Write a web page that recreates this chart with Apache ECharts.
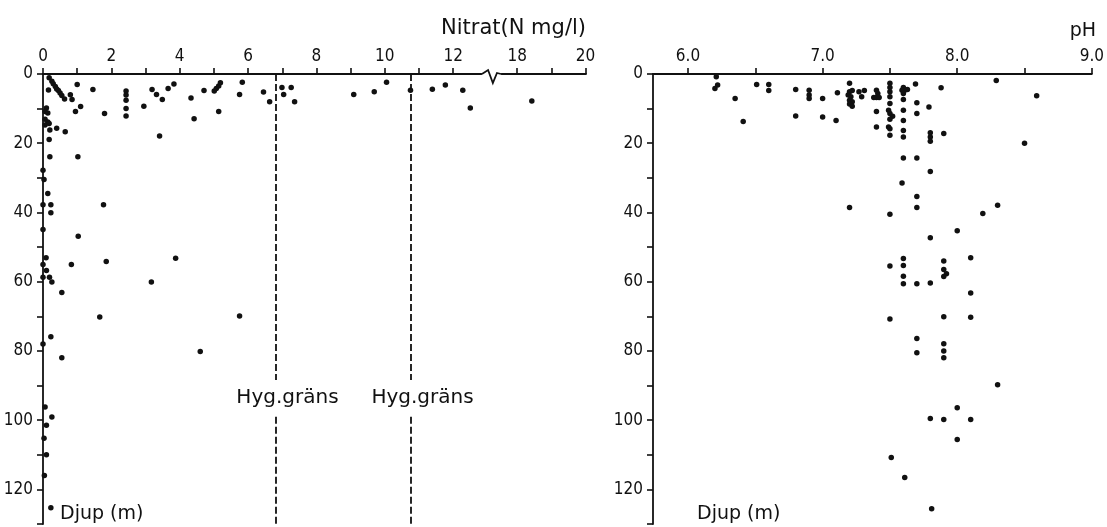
<!DOCTYPE html>
<html>
<head>
<meta charset="utf-8">
<script src="https://cdn.jsdelivr.net/npm/echarts@6/dist/echarts.min.js"></script>
<style>
  html, body { margin: 0; padding: 0; background: #fff; }
  #chart { width: 1107px; height: 527px; }
</style>
</head>
<body>
<div id="chart"></div>
<script>
// Nitrate (mg N/l) against well depth (m)
const nitrateDepth = [
  [0.18,1.1],[0.26,2.1],[0.3,2.8],[0.36,3.6],[0.4,4.3],[0.45,4.8],[0.5,5.5],[0.55,6.2],[0.63,7.2],
  [0.8,6.0],[0.85,7.4],[1.0,3.0],[0.95,10.8],[1.1,9.4],[0.16,4.6],
  [0.1,9.8],[0.06,10.8],[0.14,11.3],[0.06,13.1],[0.14,13.9],[0.06,14.7],[0.18,14.3],[0.4,15.7],[0.65,16.7],[0.2,16.2],
  [1.46,4.5],[1.8,11.4],[2.43,4.9],[2.43,6.1],[2.43,7.6],[2.43,10.0],[2.43,12.1],[2.95,9.3],[3.19,4.5],
  [3.32,5.9],[3.49,7.4],[3.66,4.2],[3.83,2.9],[4.33,6.9],[4.42,12.9],[4.71,4.8],[5.01,4.9],[5.07,4.2],
  [5.14,3.5],[5.19,2.5],[5.14,10.8],[5.75,5.9],[5.83,2.4],[6.45,5.2],[6.63,8.0],[6.99,3.9],[7.04,5.9],
  [7.26,3.9],[7.36,8.0],[9.09,5.9],[9.69,5.1],[10.05,2.4],[10.75,4.7],[11.39,4.4],[11.77,3.2],[12.28,4.7],
  [12.5,9.8],[18.43,7.8],
  [0.18,18.9],[3.41,17.9],[0.2,23.9],[1.02,23.9],[0,27.8],[0.03,30.5],[0.14,34.5],[0,37.8],[0.23,37.8],
  [1.77,37.8],[0.23,40.1],[0,44.9],[1.03,46.9],[0.09,53.1],[3.88,53.2],[0.83,55.0],[1.85,54.2],[0,55.0],
  [0.1,56.8],[0,58.7],[0.19,58.7],[0.26,60.1],[3.17,60.1],[0.55,63.1],[1.66,70.2],[5.75,69.9],[0.23,75.9],
  [0,78.0],[0.55,82.0],[4.6,80.2],[0.06,96.2],[0.26,99.1],[0.1,101.5],[0.03,105.2],[0.1,110.0],[0.04,116.0],
  [0.23,125.3]
];

// pH against well depth (m)
const phDepth = [
  [6.21,0.8],[6.22,3.2],[6.2,4.2],[6.35,7.1],[6.41,13.7],[6.51,3.0],[6.6,3.0],[6.6,4.8],[6.8,4.5],[6.8,12.1],
  [6.9,4.7],[6.9,6.1],[6.9,7.1],[7.0,7.1],[7.0,12.4],[7.1,13.4],[7.11,5.4],[7.2,2.7],[7.2,5.1],[7.22,4.8],
  [7.19,6.1],[7.21,6.6],[7.2,7.6],[7.22,8.0],[7.2,8.7],[7.22,9.3],[7.27,5.1],[7.29,6.6],[7.31,4.8],[7.4,4.7],
  [7.41,5.6],[7.4,6.8],[7.38,6.8],[7.42,6.8],[7.4,10.8],[7.4,15.3],
  [7.5,2.7],[7.5,3.9],[7.5,5.1],[7.5,6.6],[7.5,8.5],[7.49,10.5],[7.5,11.4],[7.52,12.2],[7.5,13.1],[7.49,15.3],
  [7.5,15.8],[7.5,17.7],
  [7.6,3.9],[7.59,4.7],[7.61,4.7],[7.6,5.6],[7.6,7.4],[7.6,10.5],[7.6,13.4],[7.6,16.3],[7.6,18.2],[7.63,4.5],
  [7.69,2.9],[7.7,8.3],[7.7,11.4],[7.79,9.5],[7.8,17.0],[7.8,18.2],[7.9,17.2],[7.88,4.0],[8.29,1.9],[8.59,6.3],
  [7.8,19.4],[7.6,24.3],[7.7,24.3],[7.8,28.2],[7.59,31.5],[7.7,35.4],[7.7,38.6],[7.2,38.6],[7.5,40.5],[8.0,45.3],
  [7.8,47.3],[7.6,53.3],[8.1,53.1],[7.5,55.5],[7.6,55.3],[7.9,54.0],[7.6,58.4],[7.9,56.5],[7.92,57.7],[7.9,58.5],
  [7.6,60.6],[7.7,60.6],[7.8,60.4],[8.1,63.3],[7.5,70.8],[7.9,70.1],[8.1,70.3],[8.5,20.0],[8.3,37.9],[8.19,40.3],
  [7.7,76.4],[7.7,80.5],[7.9,77.9],[7.9,80.0],[7.9,82.0],[8.0,96.4],[7.8,99.5],[7.9,99.8],[8.1,99.8],[8.0,105.6],
  [7.51,110.8],[7.61,116.6],[7.81,125.6],[8.3,89.8]
];

// Hygienic limits for nitrate (mg N/l)
const hygLimits = [6.8, 10.75];
const hygLabel = 'Hyg.gräns';
const hygLabelDepth = 93.4;
const hygGap = [88.4, 99.0];

// Axis ticks and labels
const nitrateTickValues = [0,1,2,3,4,5,6,7,8,9,10,11,12,18,19,20];
const nitrateLabelValues = [0,2,4,6,8,10,12,18,20];
const nitrateBreak = { start: 12.87, end: 17.5, gap: 0.5 };
const phTickValues = [6.0,6.5,7.0,7.5,8.0,8.5,9.0];
const phLabelValues = [6.0,7.0,8.0,9.0];
const depthMax = 130;
const depthStep = 10;
const depthLabelStep = 20;

const INK = '#111';
const tickFont = "'Liberation Sans Narrow', 'DejaVu Sans Condensed', sans-serif";
const textFont = "'DejaVu Sans', sans-serif";

const chart = echarts.init(document.getElementById('chart'), null, { renderer: 'canvas' });

function depthAxis(gridIndex) {
  return {
    type: 'value', gridIndex, inverse: true, min: 0, max: depthMax, interval: depthStep,
    axisLine: { show: true, onZero: false, lineStyle: { color: INK, width: 1.8 } },
    axisTick: { show: true, length: 6, lineStyle: { color: INK, width: 1.6 } },
    axisLabel: {
      color: INK, fontFamily: tickFont, fontSize: 17, margin: 10,
      formatter: v => (v % depthLabelStep === 0 ? String(v) : '')
    },
    splitLine: { show: false }
  };
}

const hygLines = [];
hygLimits.forEach(x => {
  hygLines.push([{ coord: [x, 0] }, { coord: [x, hygGap[0]] }]);
  hygLines.push([{ coord: [x, hygGap[1]] }, { coord: [x, depthMax] }]);
});

function textItem(id, text, x, y, size, align) {
  return {
    id, type: 'text', x, y, z: 60,
    style: { text, fill: INK, font: size + 'px ' + textFont, textAlign: align, textVerticalAlign: 'middle' }
  };
}

const option = {
  animation: false,
  backgroundColor: '#fff',
  grid: [
    { left: 43, top: 74, width: 542.5, height: 450 },
    { left: 653, top: 74, width: 440, height: 450 }
  ],
  xAxis: [
    {
      type: 'value', gridIndex: 0, position: 'top', min: 0, max: 20,
      breaks: [nitrateBreak],
      breakArea: { show: false },
      axisLine: { show: true, onZero: false, lineStyle: { color: INK, width: 1.8 } },
      axisTick: { show: true, length: 6, customValues: nitrateTickValues, lineStyle: { color: INK, width: 1.6 } },
      axisLabel: { color: INK, fontFamily: tickFont, fontSize: 17, margin: 9, customValues: nitrateLabelValues },
      splitLine: { show: false }
    },
    {
      type: 'value', gridIndex: 1, position: 'top', min: 5.74, max: 9.0,
      axisLine: { show: true, onZero: false, lineStyle: { color: INK, width: 1.8 } },
      axisTick: { show: true, length: 6, customValues: phTickValues, lineStyle: { color: INK, width: 1.6 } },
      axisLabel: {
        color: INK, fontFamily: tickFont, fontSize: 17, margin: 9, customValues: phLabelValues,
        formatter: v => Number(v).toFixed(1)
      },
      splitLine: { show: false }
    }
  ],
  yAxis: [depthAxis(0), depthAxis(1)],
  series: [
    {
      name: 'Nitrat', type: 'scatter', xAxisIndex: 0, yAxisIndex: 0, data: nitrateDepth,
      symbol: 'circle', symbolSize: 5.5, clip: false, itemStyle: { color: INK, opacity: 1 }, z: 5
    },
    {
      name: 'pH', type: 'scatter', xAxisIndex: 1, yAxisIndex: 1, data: phDepth,
      symbol: 'circle', symbolSize: 5.5, clip: false, itemStyle: { color: INK, opacity: 1 }, z: 5
    },
    {
      name: hygLabel, type: 'scatter', xAxisIndex: 0, yAxisIndex: 0,
      data: hygLimits.map(x => [x, hygLabelDepth]),
      symbolSize: 0, clip: false, itemStyle: { color: INK, opacity: 1 },
      label: {
        show: true, position: 'inside', offset: [12, 0], formatter: hygLabel,
        color: INK, fontFamily: textFont, fontSize: 20
      },
      markLine: {
        silent: true, symbol: 'none', label: { show: false },
        lineStyle: { color: INK, width: 1.8, type: [7, 3], opacity: 1 },
        data: hygLines
      }
    }
  ],
  graphic: [
    textItem('title-nitrat', 'Nitrat(N mg/l)', 586, 29, 21, 'right'),
    textItem('title-ph', 'pH', 1096, 31, 19, 'right'),
    textItem('depth-left', 'Djup (m)', 60, 514, 19, 'left'),
    textItem('depth-right', 'Djup (m)', 697, 514, 19, 'left')
  ]
};

chart.setOption(option);

// Zigzag mark where the nitrate axis is broken
const gridTop = option.grid[0].top;
let bx0 = chart.convertToPixel({ xAxisIndex: 0 }, nitrateBreak.start);
let bx1 = chart.convertToPixel({ xAxisIndex: 0 }, nitrateBreak.end);
if (!isFinite(bx0) || !isFinite(bx1) || bx1 <= bx0) {
  bx0 = 483; bx1 = 500;
}
const w = bx1 - bx0;
chart.setOption({
  graphic: [
    {
      id: 'break-mask', type: 'line', z: 50,
      shape: { x1: bx0 - 1, y1: gridTop, x2: bx1 + 1, y2: gridTop },
      style: { stroke: '#fff', lineWidth: 4 }
    },
    {
      id: 'break-zigzag', type: 'polyline', z: 51,
      shape: { points: [[bx0 - 1, gridTop], [bx0 + w * 0.3, gridTop - 4], [bx0 + w * 0.58, gridTop + 9], [bx0 + w * 0.82, gridTop - 1], [bx1 + 1, gridTop]] },
      style: { stroke: INK, lineWidth: 1.8, fill: null }
    }
  ]
});
</script>
</body>
</html>
